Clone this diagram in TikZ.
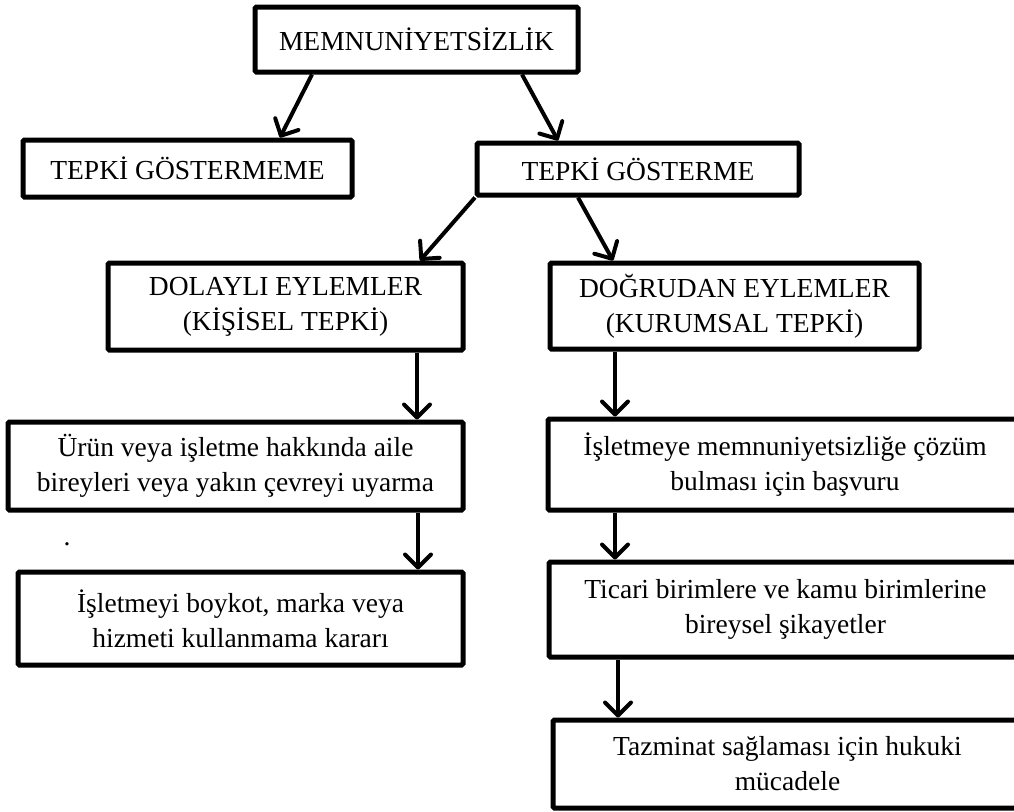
\documentclass[tikz,border=0pt]{standalone}
\usepackage{fontspec}
\setmainfont{Liberation Serif}
\usepackage{tikz}
\usetikzlibrary{arrows.meta}

\begin{document}
\begin{tikzpicture}[x=1pt,y=-1pt,
	kutu/.style={draw=black, fill=white, line width=5pt, rounded corners=1.5pt, inner sep=0pt, align=center, font=\fontsize{27.5}{35}\selectfont},
	ok/.style={line width=4pt, -{Straight Barb[length=13pt,width=26pt,line cap=round,line join=round]}}]
		%frame
		\useasboundingbox (0,0) rectangle (1014,811);
		%top
		\node[kutu, minimum width=323pt, minimum height=65pt] (memn) at (416.5,39.5) {MEMNUNİYETSİZLİK};
		%second level
		\node[kutu, minimum width=329pt, minimum height=57pt] (tgm) at (187.5,168.5) {TEPKİ GÖSTERMEME};
		\node[kutu, minimum width=322pt, minimum height=52pt] (tg) at (638,169) {TEPKİ GÖSTERME};
		%third level
		\node[kutu, minimum width=355pt, minimum height=87pt] (dol) at (285.5,306.5) {DOLAYLI EYLEMLER\\(KİŞİSEL TEPKİ)};
		\node[kutu, minimum width=369pt, minimum height=86pt] (dog) at (734.5,306) {DOĞRUDAN EYLEMLER\\(KURUMSAL TEPKİ)};
		%left column
		\node[kutu, minimum width=455pt, minimum height=88pt] (urun) at (235.5,466) {Ürün veya işletme hakkında aile\\bireyleri veya yakın çevreyi uyarma};
		\node[kutu, minimum width=445pt, minimum height=93pt] (boy) at (240.5,618.5) {İşletmeyi boykot, marka veya\\hizmeti kullanmama kararı};
		\node[font=\fontsize{27.5}{35}\selectfont] (nokta) at (67,544) {.};
		%right column
		\node[kutu, minimum width=474pt, minimum height=91pt] (bas) at (785,464.5) {İşletmeye memnuniyetsizliğe çözüm\\bulması için başvuru};
		\node[kutu, minimum width=473pt, minimum height=95pt] (tic) at (785.5,609.5) {Ticari birimlere ve kamu birimlerine\\bireysel şikayetler};
		\node[kutu, minimum width=469pt, minimum height=88pt] (taz) at (787.5,764) {Tazminat sağlaması için hukuki\\mücadele};
		
		%arrows
		\draw[ok] ([xshift=-104.5pt]memn.south) -- ([xshift=92.5pt]tgm.north);
		\draw[ok] ([xshift=105.5pt]memn.south) -- ([xshift=-80pt]tg.north);
		\draw[ok] ([xshift=-163pt]tg.south) -- ([xshift=134.5pt]dol.north);
		\draw[ok] ([xshift=-60pt]tg.south) -- ([xshift=-121.5pt]dog.north);
		\draw[ok] ([xshift=131.5pt]dol.south) -- ([xshift=181.5pt]urun.north);
		\draw[ok] ([xshift=182.5pt]urun.south) -- ([xshift=177.5pt]boy.north);
		\draw[ok] ([xshift=-119.5pt]dog.south) -- ([xshift=-170pt]bas.north);
		\draw[ok] ([xshift=-170pt]bas.south) -- ([xshift=-170.5pt]tic.north);
		\draw[ok] ([xshift=-167.5pt]tic.south) -- ([xshift=-169.5pt]taz.north);
	\end{tikzpicture}
\end{document}
